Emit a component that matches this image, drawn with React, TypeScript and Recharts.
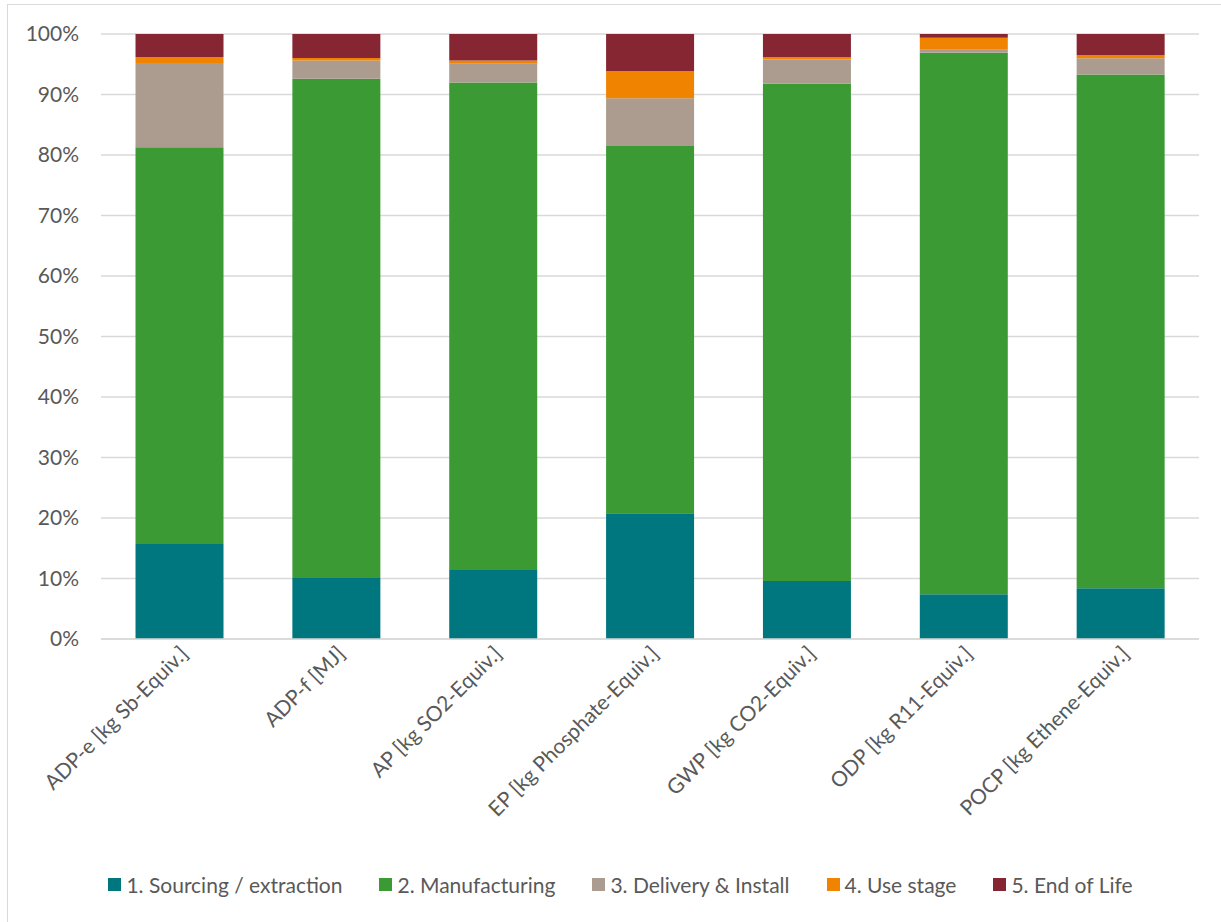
import { BarChart, Bar, XAxis, YAxis, CartesianGrid } from 'recharts';

const categories = [
  'ADP-e [kg Sb-Equiv.]',
  'ADP-f [MJ]',
  'AP [kg SO2-Equiv.]',
  'EP [kg Phosphate-Equiv.]',
  'GWP [kg CO2-Equiv.]',
  'ODP [kg R11-Equiv.]',
  'POCP [kg Ethene-Equiv.]',
];

const sourcing = [15.7, 10.1, 11.4, 20.8, 9.6, 7.4, 8.4];
const manufacturing = [65.6, 82.5, 80.6, 60.7, 82.2, 89.5, 84.9];
const delivery = [13.9, 3.0, 3.1, 7.9, 4.0, 0.5, 2.7];
const useStage = [1.0, 0.45, 0.5, 4.5, 0.4, 2.0, 0.5];
const endOfLife = [3.8, 3.95, 4.4, 6.1, 3.8, 0.6, 3.5];

const yTicks = [0, 10, 20, 30, 40, 50, 60, 70, 80, 90, 100];

const series = [
  { key: 'sourcing', name: '1. Sourcing / extraction', color: '#00777F' },
  { key: 'manufacturing', name: '2. Manufacturing', color: '#3C9A35' },
  { key: 'delivery', name: '3. Delivery & Install', color: '#AC9C8F' },
  { key: 'useStage', name: '4. Use stage', color: '#F08300' },
  { key: 'endOfLife', name: '5. End of Life', color: '#862633' },
];

const data = categories.map((c, i) => ({
  name: c,
  sourcing: sourcing[i],
  manufacturing: manufacturing[i],
  delivery: delivery[i],
  useStage: useStage[i],
  endOfLife: endOfLife[i],
}));

const FONT = 'Lato, "Noto Sans", sans-serif';
const TEXT = '#595959';

const XTick = (props: any) => {
  const { x, y, payload } = props;
  return (
    <text
      transform={`translate(${x + 10},${y + 8}) rotate(-45)`}
      textAnchor="end"
      fontSize={21}
      fontFamily={FONT}
      fill={TEXT}
    >
      {payload.value}
    </text>
  );
};

// legend drawn by hand so the text stays grey like the original
const LegendContent = () => (
  <div
    style={{
      display: 'flex',
      justifyContent: 'center',
      gap: 37,
      fontFamily: FONT,
      fontSize: 21,
      color: TEXT,
      paddingLeft: 20,
    }}
  >
    {series.map((s) => (
      <div key={s.key} style={{ display: 'flex', alignItems: 'center' }}>
        <span style={{ width: 13, height: 13, background: s.color, marginRight: 5, display: 'inline-block' }} />
        {s.name}
      </div>
    ))}
  </div>
);

export default function App() {
  return (
    <div style={{ position: 'absolute', left: 0, top: 0, width: 1221, height: 922, background: '#fff' }}>
      <div
        style={{
          position: 'absolute',
          left: 7,
          top: 4,
          right: 0,
          bottom: 0,
          borderLeft: '1px solid #d9d9d9',
          borderTop: '1px solid #d9d9d9',
        }}
      />
      <BarChart
        width={1221}
        height={922}
        data={data}
        margin={{ top: 34, right: 22, left: 0, bottom: 0 }}
        barCategoryGap="22%"
      >
        <CartesianGrid vertical={false} stroke="#d9d9d9" strokeWidth={1.3} />
        <XAxis
          dataKey="name"
          interval={0}
          height={283}
          tick={<XTick />}
          tickLine={false}
          axisLine={{ stroke: '#d9d9d9', strokeWidth: 1.3 }}
        />
        <YAxis
          width={101}
          domain={[0, 100]}
          ticks={yTicks}
          allowDataOverflow
          tickFormatter={(v: number) => `${v}%`}
          tickLine={false}
          axisLine={false}
          tickSize={0}
          tickMargin={22}
          tick={{ fontSize: 21, fontFamily: FONT, fill: TEXT }}
        />
        {series.map((s) => (
          <Bar
            key={s.key}
            dataKey={s.key}
            name={s.name}
            stackId="a"
            fill={s.color}
            isAnimationActive={false}
          />
        ))}
      </BarChart>
      <div style={{ position: 'absolute', left: 0, top: 872, width: 1221 }}>
        <LegendContent />
      </div>
    </div>
  );
}
